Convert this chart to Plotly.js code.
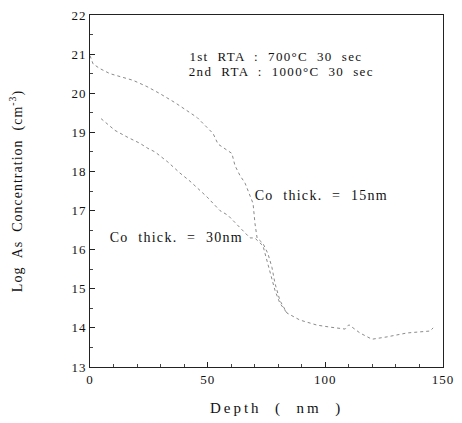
<!DOCTYPE html>
<html>
<head>
<meta charset="utf-8">
<script src="https://cdn.plot.ly/plotly-3.0.1.min.js"></script>
<style>
html,body{margin:0;padding:0;background:#fff;}
#plot{width:462px;height:423px;}
#plot .xtitle{letter-spacing:3px;}
#plot .ytitle{letter-spacing:1px;}
#plot .annotation-text{letter-spacing:1.3px;}
#plot .xtick text, #plot .ytick text{letter-spacing:1px;}
</style>
</head>
<body>
<div id="plot"></div>
<script>
// Co thick. = 15nm
const depth15 = [0, 1.3, 4.2, 8.5, 18.3, 24.2, 29.7, 36.1, 45.5, 52.3, 54.4, 60.3, 61.6, 63.7, 65.9, 69.3, 70.1, 71.0, 73.5, 75.6, 77.3, 78.6, 80.7, 83.7, 89.2, 96.5, 102, 108.4, 110, 114.7, 119.8, 126.2, 134.7, 144.5, 145.8];
const conc15  = [20.96, 20.75, 20.63, 20.5, 20.33, 20.17, 19.99, 19.76, 19.38, 18.97, 18.7, 18.46, 18.15, 17.9, 17.7, 17.18, 16.67, 16.3, 16.16, 15.9, 15.55, 15.14, 14.7, 14.38, 14.2, 14.07, 14.02, 13.97, 14.08, 13.87, 13.71, 13.77, 13.87, 13.92, 14.0];
// Co thick. = 30nm
const depth30 = [4.7, 7.6, 10.6, 16.1, 21.2, 24.6, 27.6, 33.1, 38.2, 42.5, 49.7, 55.2, 58.6, 68, 70, 73.5, 76.5, 78.6, 80.7, 83.7];
const conc30  = [19.35, 19.2, 19.05, 18.87, 18.72, 18.59, 18.5, 18.24, 17.96, 17.75, 17.35, 17.0, 16.88, 16.3, 16.3, 16.1, 15.47, 14.96, 14.63, 14.38];

const xTickVals = [0, 50, 100, 150];
const yTickVals = [13, 14, 15, 16, 17, 18, 19, 20, 21, 22];

const serif = "Liberation Serif, Times New Roman, serif";
const lineStyle = {color: '#8a8a8a', width: 1, dash: 'dot'};

const traces = [
  {x: depth15, y: conc15, mode: 'lines', line: lineStyle, hoverinfo: 'skip'},
  {x: depth30, y: conc30, mode: 'lines', line: lineStyle, hoverinfo: 'skip'}
];

const layout = {
  width: 462, height: 423,
  margin: {l: 90, r: 19, t: 15, b: 56},
  paper_bgcolor: '#fff', plot_bgcolor: '#fff',
  showlegend: false,
  font: {family: serif, color: '#111', size: 13},
  xaxis: {
    range: [0, 150], tickvals: xTickVals, ticktext: xTickVals.map(String),
    ticks: 'inside', ticklen: 5, tickcolor: '#222',
    minor: {dtick: 10, ticks: 'inside', ticklen: 3, tickcolor: '#444'},
    showgrid: false, zeroline: false,
    showline: true, linecolor: '#222', linewidth: 1, mirror: true,
    tickfont: {family: serif, size: 13, color: '#111'},
    title: {text: '&nbsp;&nbsp;&nbsp;Depth  (  nm  )', font: {family: serif, size: 15, color: '#111'}, standoff: 16}
  },
  yaxis: {
    range: [13, 22], tickvals: yTickVals, ticktext: yTickVals.map(String),
    ticks: 'inside', ticklen: 5, tickcolor: '#222',
    minor: {dtick: 0.5, ticks: 'inside', ticklen: 3, tickcolor: '#444'},
    showgrid: false, zeroline: false,
    showline: true, linecolor: '#222', linewidth: 1, mirror: true,
    tickfont: {family: serif, size: 13, color: '#111'},
    title: {text: 'Log  As  Concentration  (cm<sup>-3</sup>)', font: {family: serif, size: 14, color: '#111'}, standoff: 47}
  },
  annotations: [
    {xref: 'paper', yref: 'paper', x: 0.327, y: 0.881, xanchor: 'left', yanchor: 'middle', showarrow: false,
     text: '1st  RTA  :  700°C  30  sec', font: {family: serif, size: 13, color: '#111'}},
    {xref: 'paper', yref: 'paper', x: 0.327, y: 0.840, xanchor: 'left', yanchor: 'middle', showarrow: false,
     text: '2nd  RTA  :  1000°C  30  sec', font: {family: serif, size: 13, color: '#111'}},
    {xref: 'paper', yref: 'paper', x: 0.497, y: 0.487, xanchor: 'left', yanchor: 'middle', showarrow: false,
     text: 'Co  thick.  =  15nm', font: {family: serif, size: 14, color: '#111'}},
    {xref: 'paper', yref: 'paper', x: 0.085, y: 0.367, xanchor: 'left', yanchor: 'middle', showarrow: false,
     text: 'Co  thick.  =  30nm', font: {family: serif, size: 14, color: '#111'}}
  ]
};

Plotly.newPlot('plot', traces, layout, {staticPlot: true, displayModeBar: false});
</script>
</body>
</html>
